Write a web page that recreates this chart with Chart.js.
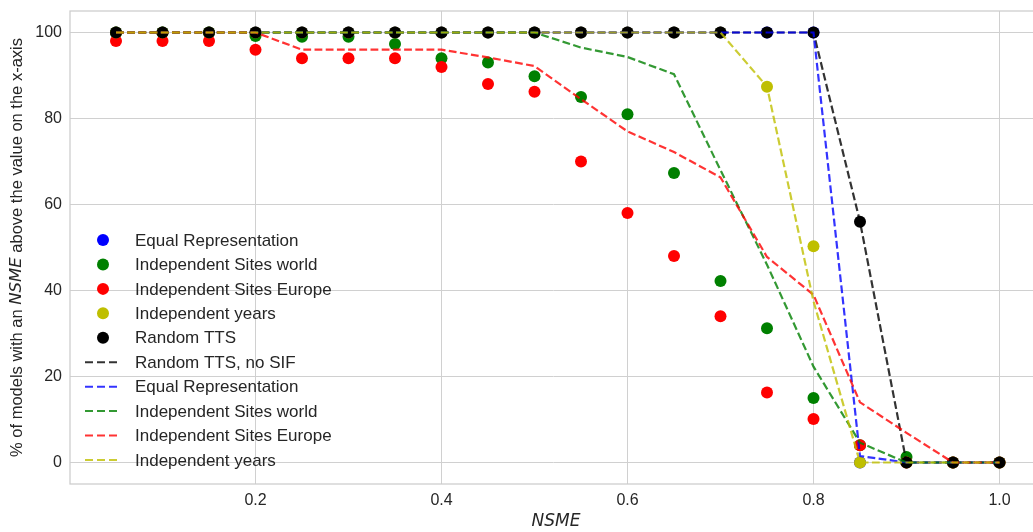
<!DOCTYPE html>
<html><head><meta charset="utf-8">
<script src="https://cdn.jsdelivr.net/npm/chart.js@4.4.1/dist/chart.umd.min.js"></script>
<style>
html,body{margin:0;padding:0;overflow:hidden;background:#fff;width:1033px;height:532px}
#wrap{width:1043px;height:532px}
canvas{display:block}
</style>
</head><body><div id="wrap"><canvas id="c" width="1043" height="532"></canvas></div>
<script>
// x values (NSME thresholds)
const nsme = [0.05,0.1,0.15,0.2,0.25,0.3,0.35,0.4,0.45,0.5,0.55,0.6,0.65,0.7,0.75,0.8,0.85,0.9,0.95,1.0];

// scatter series (dots)
const dotEqualRep    = [100,100,100,100,100,100,100,100,100,100,100,100,100,100,100,100,0,0,0,0];
const dotSitesWorld  = [100,100,100,99.2,99,99,97.3,94,93,89.8,85,81,67.3,42.2,31.2,15,4,1.3,0,0];
const dotSitesEurope = [98,98,98,96,94,94,94,92,88,86.2,70,58,48,34,16.3,10.1,4,0,0,0];
const dotYears       = [100,100,100,100,100,100,100,100,100,100,100,100,100,100,87.4,50.3,0,0,0,0];
const dotRandom      = [100,100,100,100,100,100,100,100,100,100,100,100,100,100,100,100,56,0,0,0];

// dashed line series
const lineRandomNoSIF = [100,100,100,100,100,100,100,100,100,100,100,100,100,100,100,100,56,0,0,0];
const lineEqualRep    = [100,100,100,100,100,100,100,100,100,100,100,100,100,100,100,100,1.5,0,0,0];
const lineSitesWorld  = [100,100,100,100,100,100,100,100,100,100,96.5,94.3,90.3,68,46,22.3,4.6,0,0,0];
const lineSitesEurope = [100,100,100,100,96,96,96,96,94.2,92.2,84.5,77,72.2,66.3,47.8,39,14,6.9,0,0];
const lineYears       = [100,100,100,100,100,100,100,100,100,100,100,100,100,100,87.4,37.5,0,0,0,0];

const xTicks = [0.2,0.4,0.6,0.8,1.0];
const yTicks = [0,20,40,60,80,100];

const seriesDefs = [
  {label:'Equal Representation',     data:dotEqualRep,     color:'rgb(0,0,255)',     kind:'dot'},
  {label:'Independent Sites world',  data:dotSitesWorld,   color:'rgb(0,128,0)',     kind:'dot'},
  {label:'Independent Sites Europe', data:dotSitesEurope,  color:'rgb(255,0,0)',     kind:'dot'},
  {label:'Independent years',        data:dotYears,        color:'rgb(191,191,0)',   kind:'dot'},
  {label:'Random TTS',               data:dotRandom,       color:'rgb(0,0,0)',       kind:'dot'},
  {label:'Random TTS, no SIF',       data:lineRandomNoSIF, color:'rgba(0,0,0,0.8)', kind:'line'},
  {label:'Equal Representation',     data:lineEqualRep,    color:'rgba(0,0,255,0.8)', kind:'line'},
  {label:'Independent Sites world',  data:lineSitesWorld,  color:'rgba(0,128,0,0.8)', kind:'line'},
  {label:'Independent Sites Europe', data:lineSitesEurope, color:'rgba(255,0,0,0.8)', kind:'line'},
  {label:'Independent years',        data:lineYears,       color:'rgba(191,191,0,0.8)', kind:'line'}
];

const DASH = [7.8,3.4];
const N = seriesDefs.length;
const datasets = seriesDefs.map((s,i)=>{
  const pts = nsme.map((x,k)=>({x:x,y:s.data[k]}));
  if (s.kind==='dot') {
    return {label:s.label, data:pts, showLine:false, pointRadius:6, pointHoverRadius:6,
      pointBackgroundColor:s.color, pointBorderColor:s.color, pointBorderWidth:0,
      backgroundColor:s.color, borderColor:s.color, order:N-i, kind:'dot'};
  }
  return {label:s.label, data:pts, showLine:true, pointRadius:0, pointHoverRadius:0,
    borderColor:s.color, backgroundColor:s.color, borderWidth:2.2, borderDash:DASH,
    tension:0, fill:false, order:N-i, kind:'line'};
});

const TXT = '#262626';
const SANS = '"Liberation Sans", Arial, sans-serif';
const MATH = '"DejaVu Sans", sans-serif';

const decor = {
  id:'decor',
  afterDraw(chart){
    const ctx = chart.ctx, ca = chart.chartArea;
    ctx.save();
    // frame
    ctx.strokeStyle = '#cccccc';
    ctx.lineWidth = 1.25;
    ctx.strokeRect(ca.left, ca.top, ca.right-ca.left, ca.bottom-ca.top);

    // legend
    const x0 = ca.left + 33, y0 = 240, pitch = 24.44;
    ctx.font = '17px ' + SANS;
    ctx.textBaseline = 'middle';
    ctx.textAlign = 'left';
    chart.data.datasets.forEach((d,i)=>{
      const y = y0 + i*pitch;
      if (d.kind==='dot') {
        ctx.beginPath();
        ctx.fillStyle = d.pointBackgroundColor;
        ctx.arc(x0, y, 6, 0, Math.PI*2);
        ctx.fill();
      } else {
        ctx.beginPath();
        ctx.strokeStyle = d.borderColor;
        ctx.lineWidth = 2;
        ctx.setLineDash([8,4]);
        ctx.moveTo(x0-18, y);
        ctx.lineTo(x0+18, y);
        ctx.stroke();
        ctx.setLineDash([]);
      }
      ctx.fillStyle = TXT;
      ctx.fillText(d.label, ca.left + 65, y + 1);
    });

    // x-axis title
    ctx.font = 'italic 17px ' + MATH;
    ctx.textAlign = 'center';
    ctx.fillStyle = TXT;
    ctx.fillText('NSME', 556, 522);

    // y-axis title (mixed fonts)
    const parts = [
      {t:'% of models with an ', f:'16.5px ' + SANS},
      {t:'NSME', f:'italic 16.5px ' + MATH},
      {t:' above the value on the x-axis', f:'16.5px ' + SANS}
    ];
    let total = 0;
    parts.forEach(p=>{ ctx.font = p.f; p.w = ctx.measureText(p.t).width; total += p.w; });
    ctx.translate(17, (ca.top+ca.bottom)/2);
    ctx.rotate(-Math.PI/2);
    ctx.textAlign = 'left';
    ctx.textBaseline = 'middle';
    let cx = -total/2;
    parts.forEach(p=>{ ctx.font = p.f; ctx.fillText(p.t, cx, 0); cx += p.w; });
    ctx.restore();
  }
};

const chart = new Chart(document.getElementById('c'), {
  type:'scatter',
  data:{datasets:datasets},
  options:{
    responsive:false,
    animation:false,
    devicePixelRatio:1,
    layout:{padding:{top:11,left:0,right:0,bottom:0}},
    plugins:{legend:{display:false}, tooltip:{enabled:false}},
    events:[],
    scales:{
      x:{
        type:'linear', min:0.0025, max:1.0475,
        afterFit(s){ s.height = 48; s.paddingLeft = 0; s.paddingRight = 0; },
        afterBuildTicks(s){ s.ticks = xTicks.map(v=>({value:v})); },
        ticks:{stepSize:0.2, includeBounds:false, autoSkip:false, maxRotation:0, padding:7,
          color:TXT, font:{family:SANS, size:16}, callback:v=>Number(v).toFixed(1)},
        grid:{color:'#d0d0d0', lineWidth:1, drawTicks:false},
        border:{display:false}
      },
      y:{
        type:'linear', min:-5, max:105,
        afterFit(s){ s.width = 70; s.paddingTop = 0; s.paddingBottom = 0; },
        afterBuildTicks(s){ s.ticks = yTicks.map(v=>({value:v})); },
        ticks:{stepSize:20, includeBounds:false, autoSkip:false, padding:8,
          color:TXT, font:{family:SANS, size:16}, callback:v=>String(v)},
        grid:{color:'#d0d0d0', lineWidth:1, drawTicks:false},
        border:{display:false}
      }
    }
  },
  plugins:[decor]
});

// calibrate the x range to the real plot area: 930 px per NSME unit, NSME 0 at x = 69.5
(function(){
  const ca = chart.chartArea;
  const PX_PER_UNIT = 930, ZERO_PX = 69.5;
  chart.options.scales.x.min = (ca.left - ZERO_PX) / PX_PER_UNIT;
  chart.options.scales.x.max = (ca.right - ZERO_PX) / PX_PER_UNIT;
  chart.update();
})();
</script>
</body></html>
